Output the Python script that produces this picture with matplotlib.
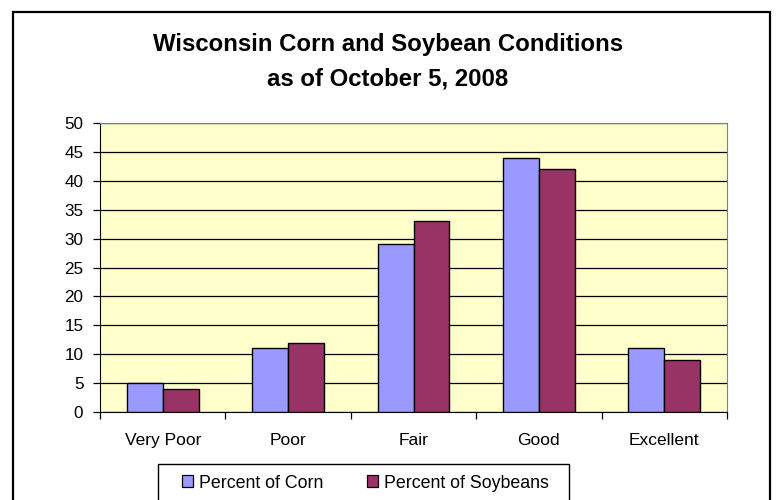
import numpy as np
import matplotlib
matplotlib.use("Agg")
import matplotlib.pyplot as plt
from matplotlib.patches import Rectangle, Patch

# condition categories and percent values
categories = ["Very Poor", "Poor", "Fair", "Good", "Excellent"]
corn = [5, 11, 29, 44, 11]
soybeans = [4, 12, 33, 42, 9]
series_names = ["Percent of Corn", "Percent of Soybeans"]

plt.rcParams["font.family"] = ["Liberation Sans", "DejaVu Sans"]

fig = plt.figure(figsize=(7.77, 5.0), dpi=100)
fig.patch.set_facecolor("white")

# outer chart frame (bottom runs past the image edge)
frame = Rectangle((13 / 777, -0.05), (770 - 13) / 777, 1.05 - 12 / 500,
                  transform=fig.transFigure, fill=False, edgecolor="black",
                  linewidth=1.6, zorder=0)
fig.patches.append(frame)

# legend box, also cut off by the bottom edge
legbox = Rectangle((158 / 777, -0.05), (569 - 158) / 777, 0.05 + 1 - 464 / 500,
                   transform=fig.transFigure, fill=False, edgecolor="black",
                   linewidth=1.0, zorder=1)
fig.patches.append(legbox)

ax = fig.add_axes([100 / 777, (500 - 412) / 500, (727 - 100) / 777, (412 - 123) / 500])
ax.set_facecolor("#FFFFCC")

x = np.arange(len(categories))
w = 0.287
ax.bar(x - w / 2, corn, width=w, color="#9999FF", edgecolor="black", linewidth=1.0, zorder=3)
ax.bar(x + w / 2, soybeans, width=w, color="#993366", edgecolor="black", linewidth=1.0, zorder=3)

ax.set_xlim(-0.5, len(categories) - 0.5)
ax.set_ylim(0, 50)
ax.set_yticks(range(0, 51, 5))
ax.yaxis.grid(True, color="black", linewidth=0.9, zorder=1)
ax.set_axisbelow(True)

# tick marks between the categories, labels at the centres
ax.set_xticks(np.arange(-0.5, len(categories), 1.0))
ax.set_xticklabels([])
ax.set_xticks(x, minor=True)
ax.set_xticklabels(categories, minor=True)
ax.tick_params(axis="x", which="major", length=5, width=0.9, direction="out")
ax.tick_params(axis="x", which="minor", length=0, pad=15, labelsize=12.5)
ax.tick_params(axis="y", length=5, width=0.9, direction="out", pad=7, labelsize=12.3)

for s in ["top", "right"]:
    ax.spines[s].set_color("#808080")
for s in ["left", "bottom"]:
    ax.spines[s].set_color("black")

fig.text(388 / 777, 1 - 44 / 500, "Wisconsin Corn and Soybean Conditions",
         ha="center", va="center", fontsize=17.3, fontweight="bold")
fig.text(388 / 777, 1 - 79 / 500, "as of October 5, 2008",
         ha="center", va="center", fontsize=17.3, fontweight="bold")

handles = [Patch(facecolor="#9999FF", edgecolor="black", linewidth=0.9),
           Patch(facecolor="#993366", edgecolor="black", linewidth=0.9)]
leg = fig.legend(handles, series_names, loc="center left",
                 bbox_to_anchor=(182 / 777, 1 - 483 / 500), ncol=2,
                 frameon=False, fontsize=12.8,
                 handlelength=0.62, handleheight=0.62, handletextpad=0.35,
                 columnspacing=2.45, borderpad=0, borderaxespad=0)

fig.savefig("out.png", dpi=100)
